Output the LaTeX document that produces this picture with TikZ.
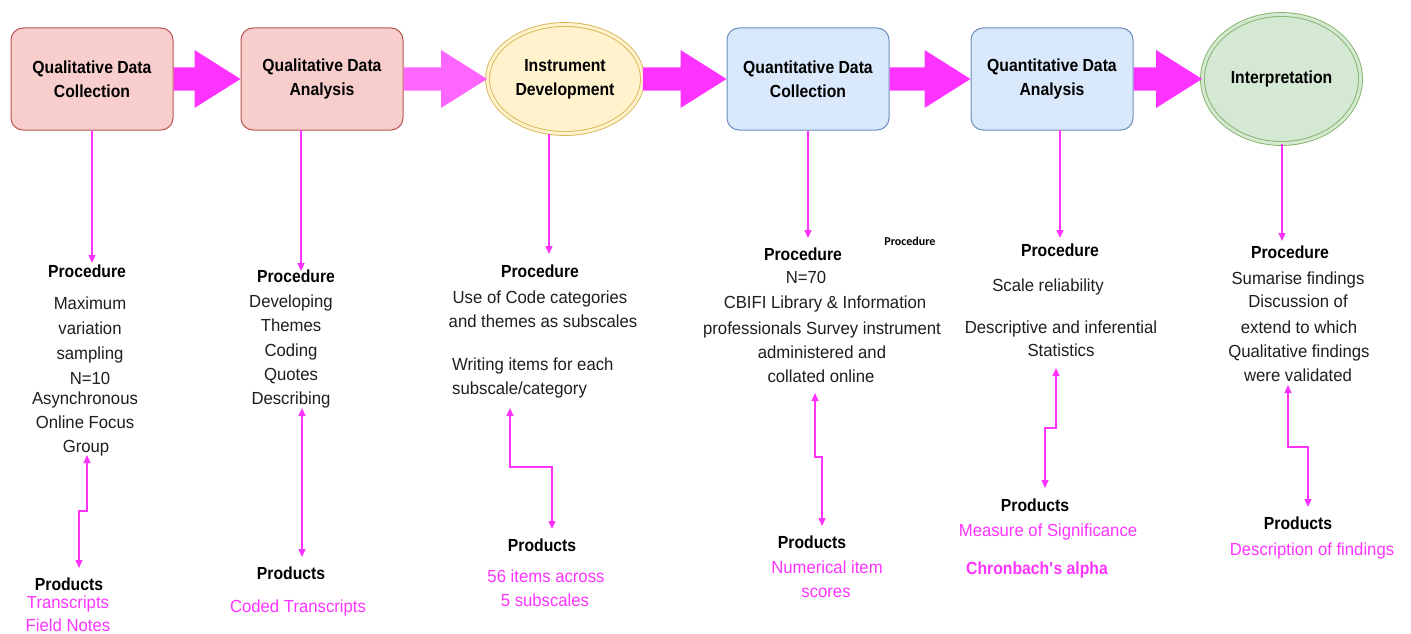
\documentclass[tikz,border=0pt]{standalone}
\usepackage{fontspec}
\setmainfont{Liberation Sans}[FakeStretch=0.9]
\newfontfamily\bodyfont{Liberation Sans}[FakeStretch=0.955]
\newfontfamily\smallfont{Carlito}
\usetikzlibrary{arrows.meta,shapes.geometric,calc}
\definecolor{mag}{HTML}{FF33FF}
\definecolor{maglight}{HTML}{FF66FF}
\definecolor{ink}{HTML}{1E1E1E}
\definecolor{redfill}{HTML}{F8CECC}
\definecolor{redline}{HTML}{B85450}
\definecolor{yelfill}{HTML}{FFF2CC}
\definecolor{yelline}{HTML}{D6B656}
\definecolor{bluefill}{HTML}{DAE8FC}
\definecolor{blueline}{HTML}{6C8EBF}
\definecolor{grnfill}{HTML}{D5E8D4}
\definecolor{grnline}{HTML}{82B366}
\newcommand\fatarrow[3][mag]{\fill[#1] let \p1=(#2.east), \p2=(#3.west) in
  (\x1,\y2+11.5pt) -- (\x2-46pt,\y2+11.5pt) -- (\x2-46pt,\y2+29pt) -- (\p2)
  -- (\x2-46pt,\y2-29pt) -- (\x2-46pt,\y2-11.5pt) -- (\x1,\y2-11.5pt) -- cycle;}
\begin{document}
\begin{tikzpicture}[x=1pt,y=1pt,
  box/.style={rectangle, rounded corners=12pt, minimum width=162pt, minimum height=102pt,
    line width=1pt, inner sep=0pt, align=center, font=\fontsize{17.5}{24}\selectfont\bfseries},
  ell/.style={ellipse, line width=0.9pt, double distance=3pt, inner sep=0pt, align=center,
    font=\fontsize{17.5}{24}\selectfont\bfseries},
  txt/.style={inner sep=0pt, text height=12.5pt, text depth=0pt,
    font=\bodyfont\fontsize{17.5}{21}\selectfont, text=ink},
  ttl/.style={txt, font=\fontsize{17.5}{21}\selectfont\bfseries, text=black},
  pk/.style={txt, text=mag},
  pkb/.style={txt, text=mag, font=\fontsize{17.5}{21}\selectfont\bfseries},
  conn/.style={draw=mag, line width=1.3pt, -{Triangle[length=8pt,width=7pt]}},
  conn2/.style={draw=mag, line width=1.3pt, {Triangle[length=8pt,width=7pt]}-{Triangle[length=8pt,width=7pt]}}
]
\useasboundingbox (0,0) rectangle (1411,-634);

% top row
\node[box, fill=redfill, draw=redline] (b1) at (92,-79) {Qualitative Data\\Collection};
\node[box, fill=redfill, draw=redline] (b2) at (322,-79) {Qualitative Data\\Analysis};
\node[ell, fill=yelfill, draw=yelline, double=yelfill, minimum width=155pt, minimum height=109pt] (e3) at (565,-79) {Instrument\\Development};
\node[box, fill=bluefill, draw=blueline] (b4) at (808,-79) {Quantitative Data\\Collection};
\node[box, fill=bluefill, draw=blueline] (b5) at (1052,-79) {Quantitative Data\\Analysis};
\node[ell, fill=grnfill, draw=grnline, double=grnfill, minimum width=158pt, minimum height=129pt] (e6) at (1281.5,-79) {Interpretation};

\fatarrow{b1}{b2}
\fatarrow[maglight]{b2}{e3}
\fatarrow{e3}{b4}
\fatarrow{b4}{b5}
\fatarrow{b5}{e6}

% column 1
\node[ttl] (p1t) at (87,-271) {Procedure};
\node[txt] (p1a) at (90,-303) {Maximum};
\node[txt] (p1b) at (90,-328) {variation};
\node[txt] (p1c) at (90,-353) {sampling};
\node[txt] (p1d) at (90,-378) {N=10};
\node[txt] (p1e) at (85,-398) {Asynchronous};
\node[txt] (p1f) at (85,-422) {Online Focus};
\node[txt] (p1g) at (86,-446) {Group};
\node[ttl] (r1t) at (69,-584) {Products};
\node[pk] (r1a) at (68,-602) {Transcripts};
\node[pk] (r1b) at (68,-625) {Field Notes};

% column 2
\node[ttl] (p2t) at (296,-276) {Procedure};
\node[txt] (p2a) at (291,-301) {Developing};
\node[txt] (p2b) at (291,-325) {Themes};
\node[txt] (p2c) at (291,-350) {Coding};
\node[txt] (p2d) at (291,-374) {Quotes};
\node[txt] (p2e) at (291,-398) {Describing};
\node[ttl] (r2t) at (291,-573) {Products};
\node[pk] (r2a) at (298,-606) {Coded Transcripts};

% column 3
\node[ttl] (p3t) at (540,-271) {Procedure};
\node[txt] (p3a) at (540,-297) {Use of Code categories};
\node[txt] (p3b) at (543,-321) {and themes as subscales};
\node[txt, anchor=west] (p3c) at (452,-364) {Writing items for each};
\node[txt, anchor=west] (p3d) at (452,-388) {subscale/category};
\node[ttl] (r3t) at (542,-545) {Products};
\node[pk] (r3a) at (546,-576) {56 items across};
\node[pk] (r3b) at (545,-600) {5 subscales};

% column 4
\node[ttl] (p4t) at (803,-254) {Procedure};
\node[txt] (p4a) at (806,-277) {N=70};
\node[txt] (p4b) at (825,-302) {CBIFI Library \& Information};
\node[txt] (p4c) at (822,-328) {professionals Survey instrument};
\node[txt] (p4d) at (822,-352) {administered and};
\node[txt] (p4e) at (821,-376) {collated online};
\node[ttl] (r4t) at (812,-542) {Products};
\node[pk] (r4a) at (827,-567) {Numerical item};
\node[pk] (r4b) at (826,-591) {scores};
\node[inner sep=0pt, font=\smallfont\fontsize{12}{14}\selectfont\bfseries] (small) at (910,-241) {Procedure};

% column 5
\node[ttl] (p5t) at (1060,-250) {Procedure};
\node[txt] (p5a) at (1048,-285) {Scale reliability};
\node[txt] (p5b) at (1061,-327) {Descriptive and inferential};
\node[txt] (p5c) at (1061,-350) {Statistics};
\node[ttl] (r5t) at (1035,-505) {Products};
\node[pk] (r5a) at (1048,-530) {Measure of Significance};
\node[pkb] (r5b) at (1037,-568) {Chronbach\textquotesingle s alpha};

% column 6
\node[ttl] (p6t) at (1290,-252) {Procedure};
\node[txt] (p6a) at (1298,-278) {Sumarise findings};
\node[txt] (p6b) at (1298,-301) {Discussion of};
\node[txt] (p6c) at (1299,-327) {extend to which};
\node[txt] (p6d) at (1299,-351) {Qualitative findings};
\node[txt] (p6e) at (1298,-375) {were validated};
\node[ttl] (r6t) at (1298,-523) {Products};
\node[pk] (r6a) at (1312,-549) {Description of findings};

% connector end points
\coordinate (t1) at (92,-263);
\coordinate (s2) at (301,-130);
\coordinate (t2) at (301,-271);
\coordinate (s3) at ($(e3.south)+(-16,0)$);
\coordinate (t3) at (549,-254);
\coordinate (t4) at (808,-238);
\coordinate (s5) at (1060,-130);
\coordinate (t5) at (1060,-238);
\coordinate (t6) at (1282,-241);

\draw[conn] (b1.south) -- (t1);
\draw[conn] (s2) -- (t2);
\draw[conn] (s3) -- (t3);
\draw[conn] (b4.south) -- (t4);
\draw[conn] (s5) -- (t5);
\draw[conn] (e6.south -| t6) -- (t6);

% elbow connectors between procedure and products
\coordinate (u1) at (87,-455);  \coordinate (d1) at (79,-568);
\coordinate (u2) at (302,-408); \coordinate (d2) at (302,-557);
\coordinate (u3) at (510,-408); \coordinate (d3) at (552,-529);
\coordinate (u4) at (815,-393); \coordinate (d4) at (822,-526);
\coordinate (u5) at (1056,-368); \coordinate (d5) at (1045,-488);
\coordinate (u6) at (1288,-385); \coordinate (d6) at (1308,-507);

\draw[conn2] (u1) -- (u1 |- 0,-511) -- (d1 |- 0,-511) -- (d1);
\draw[conn2] (u2) -- (d2);
\draw[conn2] (u3) -- (u3 |- 0,-467) -- (d3 |- 0,-467) -- (d3);
\draw[conn2] (u4) -- (u4 |- 0,-457) -- (d4 |- 0,-457) -- (d4);
\draw[conn2] (u5) -- (u5 |- 0,-428) -- (d5 |- 0,-428) -- (d5);
\draw[conn2] (u6) -- (u6 |- 0,-447) -- (d6 |- 0,-447) -- (d6);
\end{tikzpicture}
\end{document}
